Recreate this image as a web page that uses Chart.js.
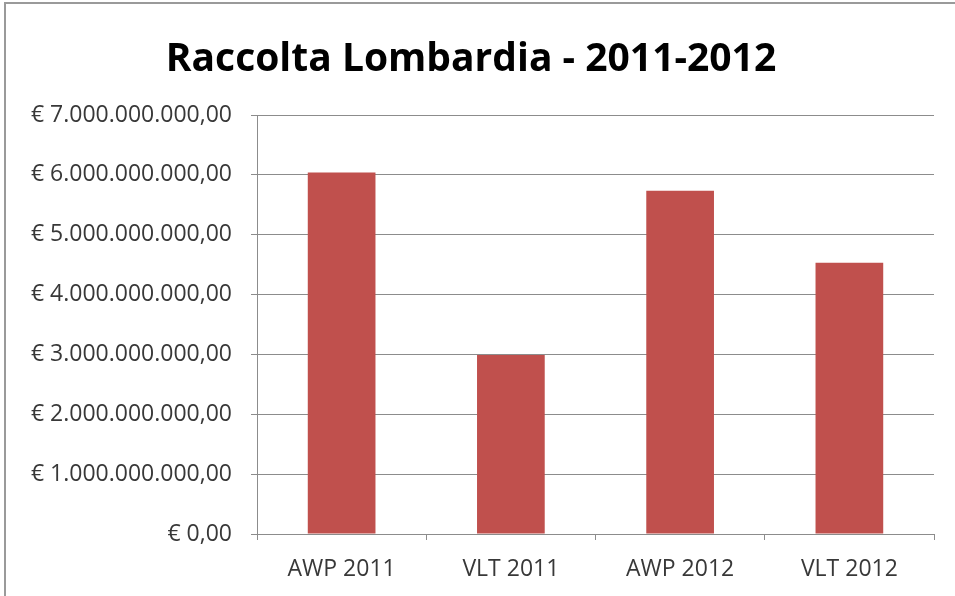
<!DOCTYPE html>
<html>
<head>
<meta charset="utf-8">
<script src="https://cdn.jsdelivr.net/npm/chart.js@4"></script>
<style>
  html, body { margin: 0; padding: 0; background: #fff; overflow: hidden; }
  #wrap { position: relative; width: 955px; height: 596px; overflow: hidden; }
  #frame {
    position: absolute; left: 4px; top: 2px; width: 1000px; height: 700px;
    border-left: 2px solid #9a9a9a; border-top: 2px solid #9a9a9a;
  }
  canvas { position: absolute; left: 0; top: 0; }
</style>
</head>
<body>
<div id="wrap">
  <div id="frame"></div>
  <canvas id="raccolta-chart" width="955" height="596"></canvas>
</div>
<script>
const categories = ['AWP 2011', 'VLT 2011', 'AWP 2012', 'VLT 2012'];
const raccolta = [6040000000, 2990000000, 5735000000, 4530000000];
const yTicks = [0, 1e9, 2e9, 3e9, 4e9, 5e9, 6e9, 7e9];

const barColor = '#C0504D';
const gridColor = '#8c8c8c';
const textColor = '#383838';

// format like Excel's "€ 1.000.000.000,00"
function euro(value) {
  const intPart = Math.round(value).toString().replace(/\B(?=(\d{3})+(?!\d))/g, '.');
  return '€ ' + intPart + ',00';
}

const ctx = document.querySelector('#raccolta-chart');

new Chart(ctx, {
  type: 'bar',
  data: {
    labels: categories,
    datasets: [{
      label: 'Raccolta',
      data: raccolta,
      backgroundColor: barColor,
      borderWidth: 0,
      barPercentage: 0.4,
      categoryPercentage: 1.0
    }]
  },
  options: {
    responsive: false,
    animation: false,
    layout: {
      padding: { top: 0, left: 8, right: 21, bottom: 0 }
    },
    scales: {
      x: {
        border: { display: true, color: gridColor, width: 1 },
        grid: {
          offset: true,
          drawOnChartArea: false,
          drawTicks: true,
          tickLength: 6,
          color: gridColor
        },
        ticks: {
          color: textColor,
          padding: 16,
          font: { family: 'Open Sans', size: 23 }
        },
        afterFit(scale) { scale.height = 62; }
      },
      y: {
        min: 0,
        max: 7e9,
        border: { display: true, color: gridColor, width: 1 },
        grid: {
          color: gridColor,
          drawTicks: true,
          tickLength: 6
        },
        afterBuildTicks(scale) {
          scale.ticks = yTicks.map(v => ({ value: v }));
        },
        ticks: {
          color: textColor,
          padding: 19,
          font: { family: 'Open Sans', size: 23 },
          callback: value => euro(value)
        },
        afterFit(scale) { scale.width = 249; }
      }
    },
    plugins: {
      legend: { display: false },
      tooltip: { enabled: false },
      title: {
        display: true,
        text: 'Raccolta Lombardia - 2011-2012',
        color: '#000',
        font: { family: 'Open Sans', size: 39, weight: 'bold', lineHeight: 1.2 },
        padding: { top: 36, bottom: 32.2 }
      }
    }
  }
});
</script>
</body>
</html>
